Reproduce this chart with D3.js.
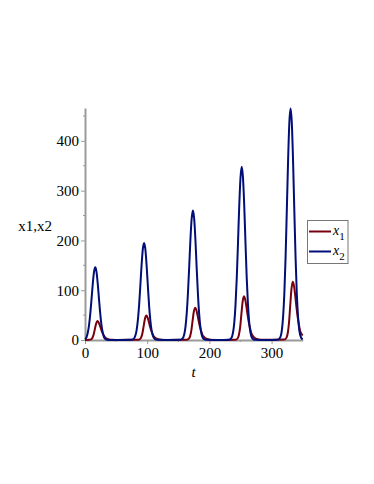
<!DOCTYPE html>
<html>
<head>
<meta charset="utf-8">
<script src="https://cdn.jsdelivr.net/npm/d3@7"></script>
<style>
  body { margin: 0; background: #fff; }
  svg { display: block; }
  text { font-family: "Liberation Serif", "Times New Roman", serif; fill: #000; }
</style>
</head>
<body>
<div id="chart"></div>
<script>
// t samples and values
const tX2 = [0, 2.5, 4.5, 6.5, 8.5, 10.5, 12.5, 14.5, 16.5, 18.5, 20.5, 22.5, 24.5, 26.5, 28.5, 30.5, 33.5, 37.5, 56,
  74, 78, 81, 83, 85, 87, 89, 91, 93, 95, 97, 99, 101, 103, 105, 107, 109, 112, 116, 134.5,
  152.5, 156.5, 159.5, 161.5, 163.5, 165.5, 167.5, 169.5, 171.5, 173.5, 175.5, 177.5, 179.5, 181.5, 183.5, 185.5, 187.5, 190.5, 194.5, 213,
  231, 235, 238, 240, 242, 244, 246, 248, 250, 252, 254, 256, 258, 260, 262, 264, 266, 269, 273, 291.5,
  309.5, 313.5, 316.5, 318.5, 320.5, 322.5, 324.5, 326.5, 328.5, 330.5, 332.5, 334.5, 336.5, 338.5, 340.5, 342.5, 344.5, 347.5, 350];
const x2 = [2, 6, 15, 30, 53, 82, 113, 137, 146, 137, 113, 82, 53, 30, 15, 6, 1.5, 0.2, 0.05,
  0.3, 2, 9, 20, 40, 70, 110, 151, 183, 195, 183, 151, 110, 70, 40, 20, 9, 2, 0.3, 0.05,
  0.3, 2.6, 11, 26, 53, 94, 146, 202, 244, 260, 244, 202, 146, 94, 53, 26, 11, 2.6, 0.3, 0.05,
  0.4, 3.5, 15, 35, 71, 125, 196, 270, 326, 348, 326, 270, 196, 125, 71, 35, 15, 3.5, 0.4, 0.05,
  0.5, 4.6, 20, 47, 94, 167, 262, 360, 436, 465, 436, 360, 262, 167, 94, 47, 20, 4.6, 1.2];

const tX1 = [0, 7, 10, 12, 14, 16, 18, 20, 22, 24, 26, 28, 30, 32, 35, 39, 44, 50,
  85.5, 88.5, 90.5, 92.5, 94.5, 96.5, 98.5, 100.5, 102.5, 104.5, 106.5, 108.5, 110.5, 113.5, 117.5, 122.5, 128.5,
  164, 167, 169, 171, 173, 175, 177, 179, 181, 183, 185, 187, 189, 192, 196, 201, 207,
  242.5, 245.5, 247.5, 249.5, 251.5, 253.5, 255.5, 257.5, 259.5, 261.5, 263.5, 265.5, 267.5, 270.5, 274.5, 279.5, 285.5,
  321, 324, 326, 328, 330, 332, 334, 336, 338, 340, 342, 344, 346, 350];
const x1 = [0.2, 0.3, 1.5, 4.6, 11.4, 22.8, 33.4, 38, 35.3, 28.9, 21.3, 14.8, 9.9, 5.7, 3.0, 1.1, 0.4, 0.1,
  0.4, 2.0, 5.9, 14.7, 29.4, 43.1, 49, 45.6, 37.2, 27.4, 19.1, 12.7, 7.4, 3.9, 1.5, 0.5, 0.15,
  0.5, 2.6, 7.8, 19.5, 39, 57.2, 65, 60.5, 49.4, 36.4, 25.4, 16.9, 9.8, 5.2, 2.0, 0.65, 0.2,
  0.7, 3.5, 10.6, 26.4, 52.8, 77.4, 88, 81.8, 66.9, 49.3, 34.3, 22.9, 13.2, 7.0, 2.6, 0.9, 0.26,
  0.9, 4.7, 14, 35.1, 70.2, 103, 117, 108.8, 88.9, 65.5, 45.6, 30.4, 17.6, 9];

const xTicks = [0, 100, 200, 300];
const xMinor = [50, 150, 250];
const yTicks = [0, 100, 200, 300, 400];
const yMinor = [50, 150, 250, 350, 450];

const colors = { x1: "#78000E", x2: "#000E78" };
const axisColor = "#9a9a9a";

const W = 374, H = 484;
const svg = d3.select("#chart").append("svg").attr("width", W).attr("height", H);

const x = d3.scaleLinear().domain([0, 350]).range([85, 302.7]);
const y = d3.scaleLinear().domain([0, 466]).range([340, 108]);

// minor ticks
svg.append("g").selectAll("line").data(yMinor).join("line")
  .attr("x1", 83).attr("x2", 85).attr("y1", d => y(d)).attr("y2", d => y(d))
  .attr("stroke", axisColor).attr("stroke-width", 1);
svg.append("g").selectAll("line").data(xMinor).join("line")
  .attr("x1", d => x(d)).attr("x2", d => x(d)).attr("y1", 340).attr("y2", 342)
  .attr("stroke", axisColor).attr("stroke-width", 1);

const yAxis = svg.append("g").attr("transform", "translate(85,0)")
  .call(d3.axisLeft(y).tickValues(yTicks).tickSize(4).tickPadding(2).tickSizeOuter(0));
const xAxis = svg.append("g").attr("transform", "translate(0,340)")
  .call(d3.axisBottom(x).tickValues(xTicks).tickSize(4).tickPadding(3).tickSizeOuter(0));

[yAxis, xAxis].forEach(g => {
  g.select(".domain").attr("stroke", axisColor).attr("stroke-width", 2);
  g.selectAll(".tick line").attr("stroke", axisColor).attr("stroke-width", 1);
  g.selectAll(".tick text").attr("font-size", 15)
    .attr("font-family", "Liberation Serif, Times New Roman, serif").attr("fill", "#000");
});

const line = d3.line().curve(d3.curveMonotoneX);

const seriesX1 = tX1.map((t, i) => [x(t), y(x1[i])]);
const seriesX2 = tX2.map((t, i) => [x(t), y(x2[i])]);

svg.append("path").attr("d", line(seriesX1)).attr("fill", "none")
  .attr("stroke", colors.x1).attr("stroke-width", 2);
svg.append("path").attr("d", line(seriesX2)).attr("fill", "none")
  .attr("stroke", colors.x2).attr("stroke-width", 2);

// axis labels
svg.append("text").attr("x", 35).attr("y", 231).attr("text-anchor", "middle")
  .attr("font-size", 15).text("x1,x2");
svg.append("text").attr("x", 193.5).attr("y", 377).attr("text-anchor", "middle")
  .attr("font-size", 15).attr("font-style", "italic").text("t");

// legend
const legend = svg.append("g");
legend.append("rect").attr("x", 307.5).attr("y", 220.5).attr("width", 40.5).attr("height", 43)
  .attr("fill", "#fff").attr("stroke", "#777").attr("stroke-width", 1);
const items = [{ name: "1", color: colors.x1 }, { name: "2", color: colors.x2 }];
items.forEach((d, i) => {
  const cy = 231.5 + i * 20;
  legend.append("line").attr("x1", 309).attr("x2", 331).attr("y1", cy).attr("y2", cy)
    .attr("stroke", d.color).attr("stroke-width", 2);
  const t = legend.append("text").attr("x", 333).attr("y", cy + 3).attr("font-size", 14);
  t.append("tspan").attr("font-style", "italic").text("x");
  t.append("tspan").attr("font-size", 11).attr("dy", 5).text(d.name);
});
</script>
</body>
</html>
